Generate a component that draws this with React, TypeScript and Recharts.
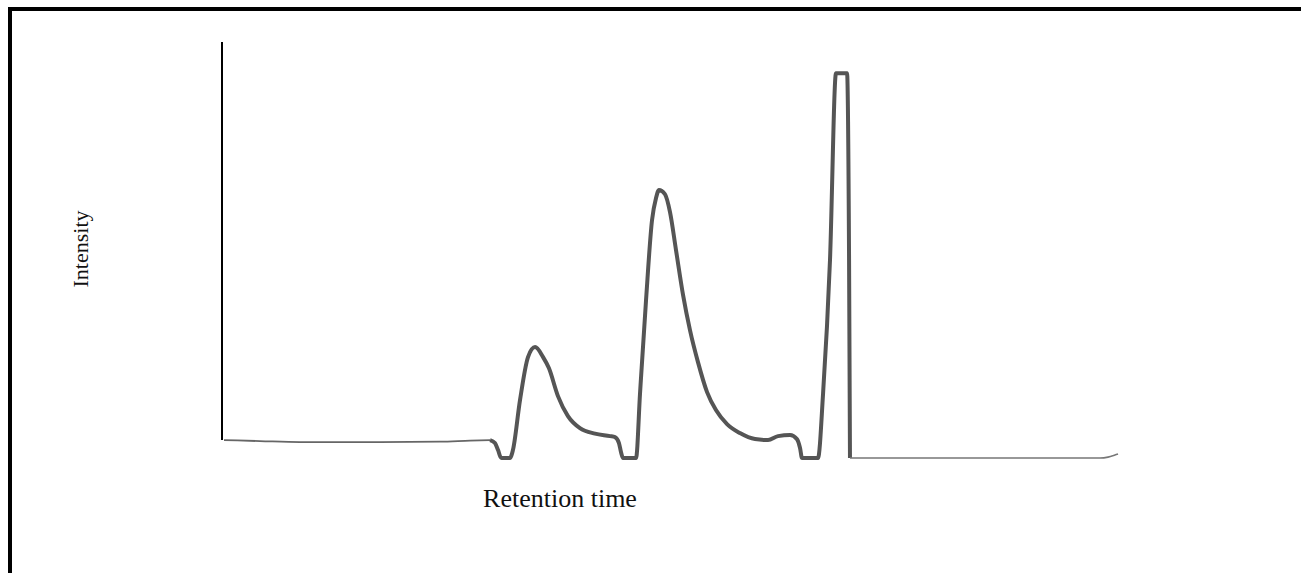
import { LineChart, Line, XAxis, YAxis, ReferenceLine } from "recharts";

// Chromatogram. Retention time in minutes (0-50),
// intensity in arbitrary units (baseline = 0, axis top = 100).

// thin baseline before the first peak
const leadRt = [0.11, 2.09, 4.3, 8.7, 12.0, 13.66, 14.76];
const leadInt = [0, -0.25, -0.5, -0.5, -0.38, -0.13, 0];

// thick trace through the three peaks
const peakRt = [
  14.76, 15.03, 15.2, 15.36, 15.47, 15.86, 16.02, 16.41, 16.85, 17.24, 17.68, 18.0,
  18.5, 19.05, 19.71, 20.54, 21.37, 21.64, 21.86, 21.97, 22.08, 22.8, 23.02, 23.35,
  23.68, 23.9, 24.06, 24.39, 24.67, 25.0, 25.39, 25.77, 26.21, 26.71, 27.2, 27.81,
  28.52, 29.35, 30.07, 30.62, 31.28, 31.66, 31.83, 31.94, 32.82, 33.1, 33.48, 33.81,
  34.42, 34.53, 34.58,
];
const peakInt = [
  0, -0.75, -2.5, -4.4, -4.5, -4.5, -2.5, 10.05, 20.85, 23.37, 20.85, 18.09,
  11.05, 6.03, 3.01, 1.63, 1.0, 0.75, -0.75, -3.0, -4.5, -4.5, 11.81, 35.17,
  55.26, 60.79, 62.8, 61.79, 57.27, 47.73, 36.42, 27.63, 19.59, 12.06, 7.54, 4.02,
  1.76, 0.25, 0, 1.0, 1.26, 0.25, -2.0, -4.5, -4.5, 11.81, 45.2, 92.18,
  92.18, 45.2, -4.5,
];

// thin baseline after the last peak
const tailRt = [34.58, 42.84, 48.35, 48.79, 49.17, 49.34];
const tailInt = [-4.5, -4.5, -4.5, -4.27, -3.77, -3.52];

const toPoints = (rt: number[], v: number[]) => rt.map((t, i) => ({ rt: t, v: v[i] }));

const W = 1301;
const H = 573;
const FONT = '"Liberation Serif", "Times New Roman", serif';
const TRACE = "#555";

export default function App() {
  return (
    <div style={{ position: "fixed", left: 0, top: 0, width: W, height: H, background: "#fff", overflow: "hidden" }}>
      <div
        style={{
          position: "absolute", left: 8, top: 7, right: 0, bottom: 0,
          borderTop: "4px solid #000", borderLeft: "4px solid #000",
        }}
      />
      <div style={{ position: "absolute", left: 0, top: 0 }}>
        <LineChart width={W} height={H} margin={{ top: 42, right: 171, bottom: 113, left: 222 }}>
          <XAxis type="number" dataKey="rt" domain={[0, 50]} hide allowDuplicatedCategory={false} />
          <YAxis type="number" domain={[-5, 100]} hide />
          <ReferenceLine
            segment={[{ x: 0, y: 0 }, { x: 0, y: 100 }]}
            stroke="#000"
            strokeWidth={2}
            ifOverflow="visible"
          />
          <Line
            data={toPoints(leadRt, leadInt)}
            dataKey="v"
            type="monotone"
            stroke="#666"
            strokeWidth={1.8}
            dot={false}
            isAnimationActive={false}
          />
          <Line
            data={toPoints(peakRt, peakInt)}
            dataKey="v"
            type="monotone"
            stroke={TRACE}
            strokeWidth={4}
            dot={false}
            isAnimationActive={false}
          />
          <Line
            data={toPoints(tailRt, tailInt)}
            dataKey="v"
            type="monotone"
            stroke="#777"
            strokeWidth={1.6}
            dot={false}
            isAnimationActive={false}
          />
        </LineChart>
      </div>
      <div
        style={{
          position: "absolute", left: 81, top: 249, transform: "translate(-50%, -50%) rotate(-90deg)",
          fontFamily: FONT, fontSize: 22, color: "#111", whiteSpace: "nowrap",
        }}
      >
        Intensity
      </div>
      <div
        style={{
          position: "absolute", left: 560, top: 499, transform: "translate(-50%, -50%)",
          fontFamily: FONT, fontSize: 26, color: "#111", whiteSpace: "nowrap",
        }}
      >
        Retention time
      </div>
    </div>
  );
}
